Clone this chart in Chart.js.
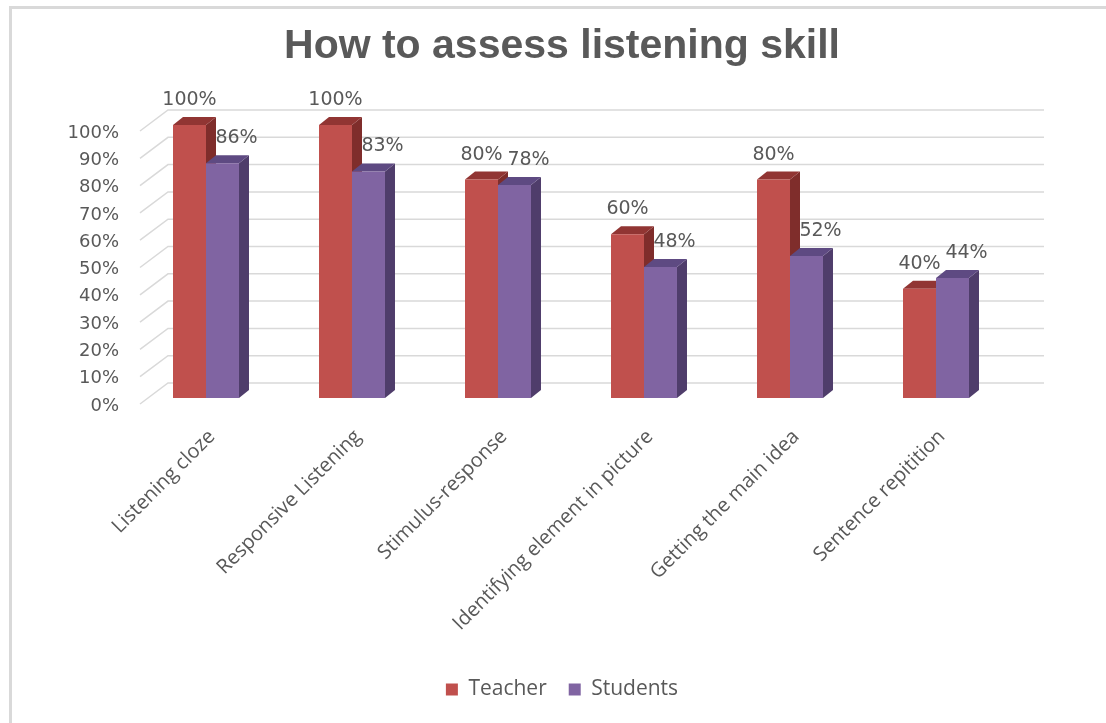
<!DOCTYPE html>
<html>
<head>
<meta charset="utf-8">
<title>How to assess listening skill</title>
<script src="https://cdn.jsdelivr.net/npm/chart.js@4.4.1/dist/chart.umd.min.js"></script>
<style>
    body { margin: 0; background: #fff; }
    .frame {
        position: absolute; left: 9px; top: 6px; width: 1097px; height: 717px;
        border-top: 3px solid #d9d9d9; border-left: 3px solid #d9d9d9;
        box-sizing: border-box;
    }
    #chart { position: absolute; left: 0; top: 0; }
</style>
</head>
<body>
<div class="frame"></div>
<canvas id="chart" width="1106" height="723"></canvas>
<script>
// Survey data
const categories = [
    'Listening cloze',
    'Responsive Listening',
    'Stimulus-response',
    'Identifying element in picture',
    'Getting the main idea',
    'Sentence repitition'
];
const teacherValues = [100, 100, 80, 60, 80, 40];
const studentValues = [86, 83, 78, 48, 52, 44];
const yTicks = [0, 10, 20, 30, 40, 50, 60, 70, 80, 90, 100];

// Colours: front face, side face, top face
const teacherColors = ['#c0504d', '#7f2d2b', '#913533'];
const studentColors = ['#8064a2', '#4f3d6b', '#5e4a82'];

const DEPTH_X = 10, DEPTH_Y = -8;     // bar thickness
const WALL_X = 35, WALL_Y = -15;      // back wall offset
const FLOOR_X = 7, FLOOR_Y = 6;       // front edge of the side wall

/**
 * Back wall gridlines and the slanted lines on the side wall
 */
const wallPlugin = {
    id: 'wall',
    beforeDatasetsDraw(chart) {
        const { ctx, chartArea, scales } = chart;
        ctx.save();
        ctx.strokeStyle = '#d9d9d9';
        ctx.lineWidth = 1.5;
        yTicks.forEach(v => {
            const y = scales.y.getPixelForValue(v);
            ctx.beginPath();
            ctx.moveTo(chartArea.left + FLOOR_X, y + FLOOR_Y);
            ctx.lineTo(chartArea.left + WALL_X, y + WALL_Y);
            ctx.lineTo(chartArea.right + WALL_X, y + WALL_Y);
            ctx.stroke();
        });
        ctx.restore();
    }
};

function fillPoly(ctx, pts, color) {
    ctx.fillStyle = color;
    ctx.beginPath();
    ctx.moveTo(pts[0][0], pts[0][1]);
    pts.slice(1).forEach(p => ctx.lineTo(p[0], p[1]));
    ctx.closePath();
    ctx.fill();
}

/**
 * Side and top faces of each bar, drawn before the front faces
 */
const depthPlugin = {
    id: 'depth',
    beforeDatasetsDraw(chart) {
        const { ctx } = chart;
        const palettes = [teacherColors, studentColors];
        ctx.save();
        categories.forEach((_, i) => {
            chart.data.datasets.forEach((ds, d) => {
                const bar = chart.getDatasetMeta(d).data[i];
                const { x, y, base, width } = bar.getProps(['x', 'y', 'base', 'width'], true);
                const l = x - width / 2, r = x + width / 2;
                fillPoly(ctx, [[r, y], [r + DEPTH_X, y + DEPTH_Y], [r + DEPTH_X, base + DEPTH_Y], [r, base]], palettes[d][1]);
                fillPoly(ctx, [[l, y], [r, y], [r + DEPTH_X, y + DEPTH_Y], [l + DEPTH_X, y + DEPTH_Y]], palettes[d][2]);
            });
        });
        ctx.restore();
    }
};

/**
 * Percentage labels above the bars
 */
const valueLabels = {
    id: 'valueLabels',
    afterDatasetsDraw(chart) {
        const { ctx } = chart;
        ctx.save();
        ctx.font = '19px "DejaVu Sans"';
        ctx.fillStyle = '#595959';
        ctx.textAlign = 'center';
        ctx.textBaseline = 'middle';
        chart.data.datasets.forEach((ds, d) => {
            chart.getDatasetMeta(d).data.forEach((bar, i) => {
                const shift = d === 1 ? 14 : 0;
                ctx.fillText(ds.data[i] + '%', bar.x + shift, bar.y - 25);
            });
        });
        ctx.restore();
    }
};

new Chart(document.getElementById('chart'), {
    type: 'bar',
    data: {
        labels: categories,
        datasets: [
            {
                label: 'Teacher',
                data: teacherValues,
                backgroundColor: teacherColors[0],
                borderWidth: 0,
                barPercentage: 1,
                categoryPercentage: 0.452
            },
            {
                label: 'Students',
                data: studentValues,
                backgroundColor: studentColors[0],
                borderWidth: 0,
                barPercentage: 1,
                categoryPercentage: 0.452
            }
        ]
    },
    options: {
        responsive: false,
        animation: false,
        layout: { padding: { top: 10, left: 50, right: 32, bottom: 13 } },
        plugins: {
            title: {
                display: true,
                text: 'How to assess listening skill',
                color: '#595959',
                font: { family: '"Liberation Sans"', size: 41, weight: 'bold' },
                padding: { top: 12.4, bottom: 53.4 }
            },
            legend: {
                position: 'bottom',
                labels: {
                    color: '#595959',
                    font: { family: '"Open Sans"', size: 21 },
                    boxWidth: 12,
                    boxHeight: 12,
                    padding: 22
                }
            },
            tooltip: { enabled: false }
        },
        scales: {
            x: {
                grid: { display: false },
                border: { display: false },
                ticks: {
                    color: '#595959',
                    font: { family: '"Open Sans"', size: 20 },
                    autoSkip: false,
                    minRotation: 45,
                    maxRotation: 45,
                    padding: 19,
                    labelOffset: 6
                },
                afterFit(scale) { scale.height = 259; }
            },
            y: {
                min: 0,
                max: 100,
                grid: { display: false },
                border: { display: false },
                ticks: {
                    stepSize: 10,
                    color: '#595959',
                    font: { family: '"DejaVu Sans"', size: 18 },
                    padding: 6,
                    labelOffset: 8,
                    callback: v => v + '%'
                },
                afterFit(scale) { scale.width = 83; }
            },
            // empty right-hand axis that keeps room for the back wall
            yRight: {
                position: 'right',
                grid: { display: false },
                border: { display: false },
                ticks: { display: false },
                afterFit(scale) { scale.width = 65; }
            }
        }
    },
    plugins: [wallPlugin, depthPlugin, valueLabels]
});
</script>
</body>
</html>
